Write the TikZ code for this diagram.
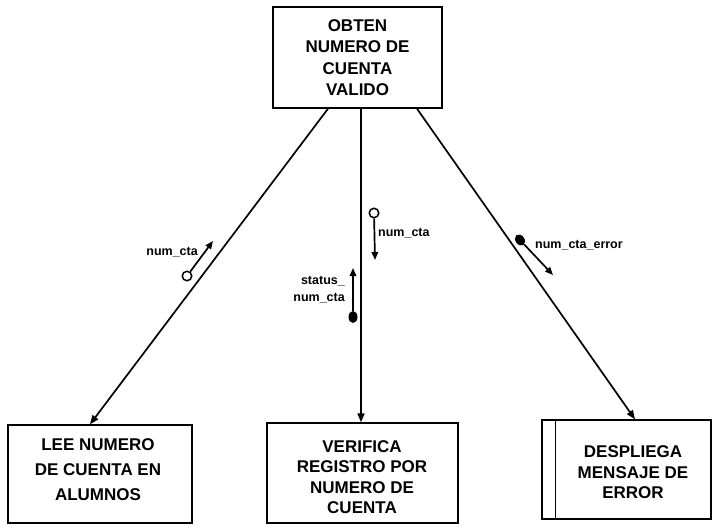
\documentclass[tikz,border=0pt]{standalone}
\usepackage{fontspec}
\setmainfont{Liberation Sans}
\usetikzlibrary{arrows.meta,calc,shapes.geometric}
\begin{document}
\begin{tikzpicture}[x=1pt,y=-1pt,
  box/.style={draw,line width=1.4pt,rectangle,inner sep=0pt},
  boxtext/.style={align=center,inner sep=0pt},
  flow/.style={line width=1.7pt,-{Triangle[length=9pt,width=7pt]}},
  couple/.style={line width=1.7pt,-{Triangle[length=8pt,width=6.5pt]}},
  lbl/.style={font=\bfseries\fontsize{12.5}{17}\selectfont,inner sep=0pt},
  opendot/.style={circle,draw,line width=1.5pt,minimum size=9.5pt,inner sep=0pt,fill=white},
  fulldot/.style={ellipse,fill=black,minimum width=9pt,minimum height=12pt,inner sep=0pt}]
\useasboundingbox (0,0) rectangle (714,527);

% process boxes
\node[box,minimum width=169pt,minimum height=101pt,boxtext,
      font=\bfseries\fontsize{17}{21.5}\selectfont] (obten) at (357.5,57.5)
      {OBTEN\\NUMERO DE\\CUENTA\\VALIDO};

\node[box,minimum width=184pt,minimum height=98pt] (lee) at (100,474) {};
\node[boxtext,font=\bfseries\fontsize{17}{25}\selectfont] (leeT) at (98,470)
      {LEE NUMERO\\DE CUENTA EN\\ALUMNOS};

\node[box,minimum width=191pt,minimum height=100pt] (verifica) at (362.5,473) {};
\node[boxtext,font=\bfseries\fontsize{17}{20.5}\selectfont] (verificaT) at (362,477)
      {VERIFICA\\REGISTRO POR\\NUMERO DE\\CUENTA};

\node[box,minimum width=169pt,minimum height=99pt] (despliega) at (626.5,469.5) {};
\draw[line width=1.4pt] ($(despliega.north west)+(14,0)$) -- ($(despliega.south west)+(14,0)$);
\node[boxtext,font=\bfseries\fontsize{17}{20.5}\selectfont] (despliegaT) at (633,472.5)
      {DESPLIEGA\\MENSAJE DE\\ERROR};

% calls
\draw[flow] ($(obten.south)+(-29.5,0)$) -- ($(lee.north)+(-10,0)$);
\draw[flow] ($(obten.south)+(3.5,0)$) -- ($(verifica.north)+(-1.5,0)$);
\draw[flow] ($(obten.south)+(59.5,0)$) -- ($(despliega.north)+(8.5,0)$);

% couples
\node[opendot] (c1o) at (187,276) {};
\coordinate (c1e) at (213,241);
\draw[couple] (c1o) -- (c1e);
\node[lbl,anchor=east] (c1l) at (198,252) {num\_cta};

\node[opendot] (c2o) at (374,213) {};
\coordinate (c2e) at (375,260);
\draw[couple] (c2o) -- (c2e);
\node[lbl,anchor=west] (c2l) at (378,233) {num\_cta};

\node[fulldot] (c3o) at (353,317) {};
\coordinate (c3e) at (353,268);
\draw[couple] (c3o) -- (c3e);
\node[lbl,anchor=east,align=right] (c3l) at (345,290) {status\_\\num\_cta};

\node[fulldot,rotate=35] (c4o) at (520,240) {};
\coordinate (c4e) at (553,275);
\draw[couple] (c4o) -- (c4e);
\node[lbl,anchor=west] (c4l) at (535,245) {num\_cta\_error};
\end{tikzpicture}
\end{document}
